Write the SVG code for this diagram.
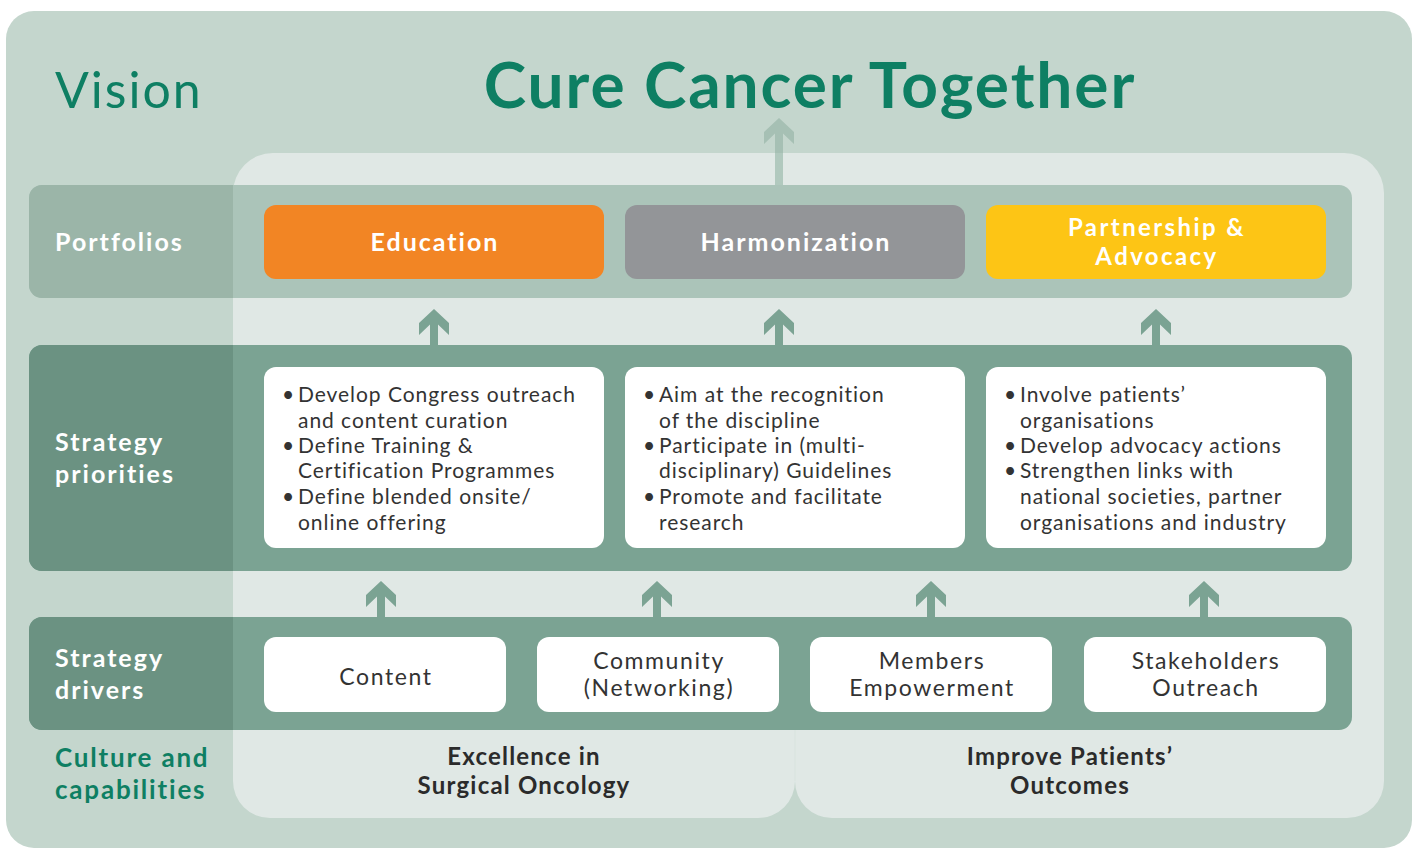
<svg xmlns="http://www.w3.org/2000/svg" width="1416" height="849" viewBox="0 0 1416 849">
<style>
.lbl{font-family:Lato,"Open Sans",sans-serif;font-weight:700;fill:#ffffff;font-size:25px;letter-spacing:2px}
.green{fill:#0e7f63;font-size:26px;letter-spacing:1.8px}
.pt{font-family:Lato,"Open Sans",sans-serif;font-weight:700;fill:#ffffff;font-size:25px;letter-spacing:2px;text-anchor:middle}
.pt2{font-size:24px;letter-spacing:2.4px}
.bt{font-family:Lato,"Open Sans",sans-serif;font-size:21px;fill:#333333;letter-spacing:0.95px}
.dt{font-family:Lato,"Open Sans",sans-serif;font-size:23px;fill:#333333;letter-spacing:1.6px;text-anchor:middle}
.ct{font-family:Lato,"Open Sans",sans-serif;font-weight:700;font-size:24px;fill:#2b2b2b;letter-spacing:1.2px;text-anchor:middle}
.wbox{fill:#ffffff}
.arr{fill:#7ba393}
</style>
<defs>
<polygon id="up" points="0,0 15,14 15,26 4,15.5 4,36 -4,36 -4,15.5 -15,26 -15,14"/>
</defs>
<g id="background">
<rect x="6" y="11" width="1406" height="837" rx="28" fill="#c4d6cd"/>
<path d="M233,193 A40,40 0 0 1 273,153 H1344 A40,40 0 0 1 1384,193 V781 A37,37 0 0 1 1347,818 H832 A37,37 0 0 1 795,781 A37,37 0 0 1 758,818 H270 A37,37 0 0 1 233,781 Z" fill="#e0e8e5"/>
<line x1="795" y1="730" x2="795" y2="781" stroke="#d8e3de" stroke-width="1"/>
</g>
<g id="band-portfolios">
<rect x="29" y="185" width="1323" height="113" rx="13" fill="#abc4b9"/>
<path d="M233,185 H42 A13,13 0 0 0 29,198 V285 A13,13 0 0 0 42,298 H233 Z" fill="#9bb5a8"/>
</g>
<g id="band-priorities">
<rect x="29" y="345" width="1323" height="226" rx="13" fill="#7ba393"/>
<path d="M233,345 H42 A13,13 0 0 0 29,358 V558 A13,13 0 0 0 42,571 H233 Z" fill="#6b9282"/>
</g>
<g id="band-drivers">
<rect x="29" y="617" width="1323" height="113" rx="13" fill="#7ba393"/>
<path d="M233,617 H42 A13,13 0 0 0 29,630 V717 A13,13 0 0 0 42,730 H233 Z" fill="#6b9282"/>
</g>
<g id="connectors">
<polygon points="779,118 794,132 794,144 783,133.5 783,153 775,153 775,133.5 764,144 764,132" fill="#a6c0b4"/>
<rect x="775" y="153" width="8" height="32" fill="#b1c9be"/>
<use href="#up" x="434" y="309" class="arr"/>
<use href="#up" x="779" y="309" class="arr"/>
<use href="#up" x="1156" y="309" class="arr"/>
<use href="#up" x="381" y="581" class="arr"/>
<use href="#up" x="657" y="581" class="arr"/>
<use href="#up" x="931" y="581" class="arr"/>
<use href="#up" x="1204" y="581" class="arr"/>
</g>
<g id="vision">
<text x="55" y="108" font-family="Lato,'Open Sans',sans-serif" font-size="50" letter-spacing="2" fill="#0e7f63">Vision</text>
<text x="810" y="108" font-family="Lato,'Open Sans',sans-serif" font-weight="700" font-size="64" letter-spacing="1.9" fill="#0e7f63" text-anchor="middle">Cure Cancer Together</text>
</g>
<g id="labels">
<text class="lbl" x="55" y="251">Portfolios</text>
<text class="lbl" x="55" y="451">Strategy</text>
<text class="lbl" x="55" y="483">priorities</text>
<text class="lbl" x="55" y="667">Strategy</text>
<text class="lbl" x="55" y="699">drivers</text>
<text class="lbl green" x="55" y="767">Culture and</text>
<text class="lbl green" x="55" y="799">capabilities</text>
</g>
<g id="education">
<rect x="264" y="205" width="340" height="74" rx="12" fill="#f28524"/>
<text class="pt" x="435" y="251">Education</text>
</g>
<g id="harmonization">
<rect x="625" y="205" width="340" height="74" rx="12" fill="#939598"/>
<text class="pt" x="796" y="251">Harmonization</text>
</g>
<g id="partnership">
<rect x="986" y="205" width="340" height="74" rx="12" fill="#fdc515"/>
<text class="pt pt2" x="1157" y="236">Partnership &amp;</text>
<text class="pt pt2" x="1157" y="265">Advocacy</text>
</g>
<g id="priorities-education">
<rect class="wbox" x="264" y="367" width="340" height="181" rx="12"/>
<text class="bt" x="282" y="402">•</text>
<text class="bt" x="298" y="402">Develop Congress outreach</text>
<text class="bt" x="298" y="428">and content curation</text>
<text class="bt" x="282" y="453">•</text>
<text class="bt" x="298" y="453">Define Training &amp;</text>
<text class="bt" x="298" y="478">Certification Programmes</text>
<text class="bt" x="282" y="504">•</text>
<text class="bt" x="298" y="504">Define blended onsite/</text>
<text class="bt" x="298" y="530">online offering</text>
</g>
<g id="priorities-harmonization">
<rect class="wbox" x="625" y="367" width="340" height="181" rx="12"/>
<text class="bt" x="643" y="402">•</text>
<text class="bt" x="659" y="402">Aim at the recognition</text>
<text class="bt" x="659" y="428">of the discipline</text>
<text class="bt" x="643" y="453">•</text>
<text class="bt" x="659" y="453">Participate in (multi-</text>
<text class="bt" x="659" y="478">disciplinary) Guidelines</text>
<text class="bt" x="643" y="504">•</text>
<text class="bt" x="659" y="504">Promote and facilitate</text>
<text class="bt" x="659" y="530">research</text>
</g>
<g id="priorities-partnership">
<rect class="wbox" x="986" y="367" width="340" height="181" rx="12"/>
<text class="bt" x="1004" y="402">•</text>
<text class="bt" x="1020" y="402">Involve patients’</text>
<text class="bt" x="1020" y="428">organisations</text>
<text class="bt" x="1004" y="453">•</text>
<text class="bt" x="1020" y="453">Develop advocacy actions</text>
<text class="bt" x="1004" y="478">•</text>
<text class="bt" x="1020" y="478">Strengthen links with</text>
<text class="bt" x="1020" y="504">national societies, partner</text>
<text class="bt" x="1020" y="530">organisations and industry</text>
</g>
<g id="driver-content">
<rect class="wbox" x="264" y="637" width="242" height="75" rx="12"/>
<text class="dt" x="386" y="685">Content</text>
</g>
<g id="driver-community">
<rect class="wbox" x="537" y="637" width="242" height="75" rx="12"/>
<text class="dt" x="659" y="669">Community</text>
<text class="dt" x="659" y="696">(Networking)</text>
</g>
<g id="driver-members">
<rect class="wbox" x="810" y="637" width="242" height="75" rx="12"/>
<text class="dt" x="932" y="669">Members</text>
<text class="dt" x="932" y="696">Empowerment</text>
</g>
<g id="driver-stakeholders">
<rect class="wbox" x="1084" y="637" width="242" height="75" rx="12"/>
<text class="dt" x="1206" y="669">Stakeholders</text>
<text class="dt" x="1206" y="696">Outreach</text>
</g>
<g id="culture">
<text class="ct" x="524" y="765">Excellence in</text>
<text class="ct" x="524" y="794">Surgical Oncology</text>
<text class="ct" x="1070" y="765">Improve Patients’</text>
<text class="ct" x="1070" y="794">Outcomes</text>
</g>
</svg>
